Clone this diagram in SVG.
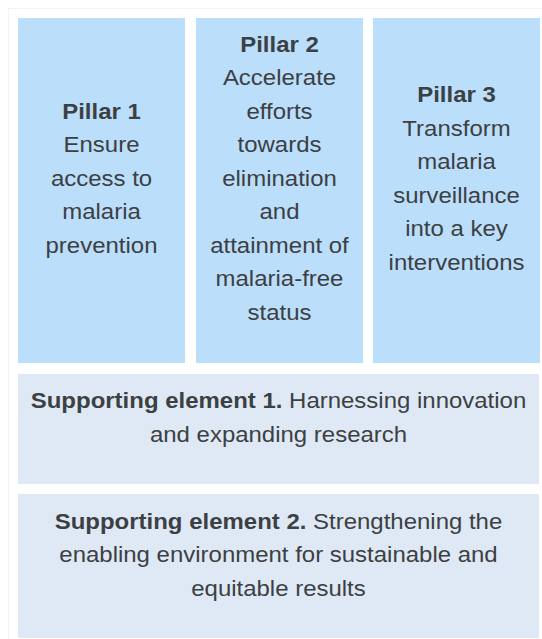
<svg xmlns="http://www.w3.org/2000/svg" width="542" height="639" viewBox="0 0 542 639">
<style>
.pillar{fill:#BBDEFB}
.support{fill:#DFE9F5}
text{font-family:"Liberation Sans",Arial,Helvetica,sans-serif;font-size:22px;fill:#3C4043;text-anchor:middle}
.b{font-weight:bold}
</style>
<rect x="0" y="0" width="542" height="639" fill="#FFFFFF"/>
<rect x="8.5" y="8.5" width="540" height="640" fill="none" stroke="#EEF4FA" stroke-width="1"/>
<g id="pillar1">
<rect class="pillar" x="18" y="18" width="167" height="345"/>
<g transform="translate(101.5 0) scale(1.09 1)">
<text x="0" y="119" class="b">Pillar 1</text>
<text x="0" y="152.5">Ensure</text>
<text x="0" y="186">access to</text>
<text x="0" y="219.5">malaria</text>
<text x="0" y="253">prevention</text>
</g>
</g>
<g id="pillar2">
<rect class="pillar" x="196" y="18" width="167" height="345"/>
<g transform="translate(279.5 0) scale(1.09 1)">
<text x="0" y="52" class="b">Pillar 2</text>
<text x="0" y="85.5">Accelerate</text>
<text x="0" y="119">efforts</text>
<text x="0" y="152.5">towards</text>
<text x="0" y="186">elimination</text>
<text x="0" y="219.5">and</text>
<text x="0" y="253">attainment of</text>
<text x="0" y="286.5">malaria-free</text>
<text x="0" y="320">status</text>
</g>
</g>
<g id="pillar3">
<rect class="pillar" x="373" y="18" width="167" height="345"/>
<g transform="translate(456.5 0) scale(1.09 1)">
<text x="0" y="102.5" class="b">Pillar 3</text>
<text x="0" y="136">Transform</text>
<text x="0" y="169.5">malaria</text>
<text x="0" y="203">surveillance</text>
<text x="0" y="236.5">into a key</text>
<text x="0" y="270">interventions</text>
</g>
</g>
<g id="support1">
<rect class="support" x="18" y="374" width="521" height="110"/>
<g transform="translate(278.5 0) scale(1.09 1)">
<text x="0" y="408.5"><tspan class="b">Supporting element 1.</tspan> Harnessing innovation</text>
<text x="0" y="442">and expanding research</text>
</g>
</g>
<g id="support2">
<rect class="support" x="18" y="494" width="521" height="144"/>
<g transform="translate(278.5 0) scale(1.09 1)">
<text x="0" y="529"><tspan class="b">Supporting element 2.</tspan> Strengthening the</text>
<text x="0" y="562.5">enabling environment for sustainable and</text>
<text x="0" y="596">equitable results</text>
</g>
</g>
<g id="connectors"></g>
</svg>
